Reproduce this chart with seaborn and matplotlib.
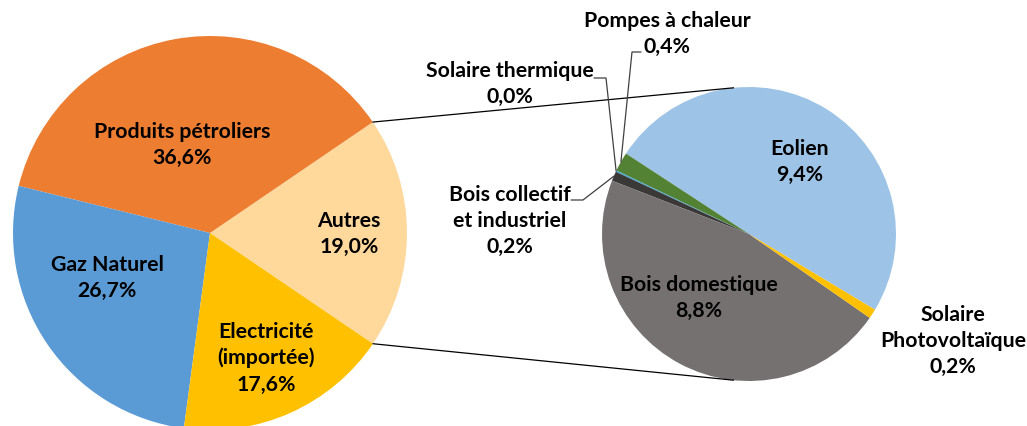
import numpy as np
import matplotlib
matplotlib.use("Agg")
import matplotlib.pyplot as plt
import seaborn as sns

# ---- data ----
main_labels = ["Autres", "Produits pétroliers", "Gaz Naturel", "Electricité\n(importée)"]
main_values = [19.0, 36.6, 26.7, 17.6]
main_colors = ["#FFD89C", "#ED7D31", "#5B9BD5", "#FFC000"]

sub_labels = ["Eolien", "Pompes à chaleur", "Solaire thermique",
              "Bois collectif\net industriel", "Bois domestique", "Solaire\nPhotovoltaïque"]
sub_values = [9.4, 0.4, 0.03, 0.2, 8.8, 0.2]
sub_colors = ["#9DC3E6", "#548235", "#3FA7D0", "#3B3838", "#767171", "#FFC000"]

def fmt(v):
    return f"{v:.1f}".replace(".", ",") + "%"

sns.set_theme(style="white")
plt.rcParams["font.family"] = ["Lato", "DejaVu Sans"]

W, H = 1027, 426
fig = plt.figure(figsize=(W / 100, H / 100), dpi=100)
ax = fig.add_axes([0, 0, 1, 1])
ax.set_xlim(0, W)
ax.set_ylim(0, H)
ax.set_aspect("equal")
ax.axis("off")

def P(x, y):
    return (x, H - y)

c1, r1 = P(210, 233), 197
c2, r2 = P(749, 234), 147

w1, _ = ax.pie(main_values, colors=main_colors, startangle=-34.2, center=c1,
               radius=r1, wedgeprops=dict(linewidth=0), frame=True)
w2, _ = ax.pie(sub_values, colors=sub_colors, startangle=-31, center=c2,
               radius=r2, wedgeprops=dict(linewidth=0), frame=True)
ax.set_xlim(0, W)
ax.set_ylim(0, H)
ax.axis("off")

def on_circle(c, r, ang):
    a = np.deg2rad(ang)
    return (c[0] + r * np.cos(a), c[1] + r * np.sin(a))

# connector lines between pies
autres = w1[0]
pA = on_circle(c1, r1, autres.theta2)
pB = on_circle(c1, r1, autres.theta1)
qA = on_circle(c2, r2, 96)
qB = on_circle(c2, r2, 264)
ax.plot([pA[0], qA[0]], [pA[1], qA[1]], color="black", lw=0.9)
ax.plot([pB[0], qB[0]], [pB[1], qB[1]], color="black", lw=0.9)

fs = 15.3
tk = dict(ha="center", va="center", fontsize=fs, fontweight="bold",
          color="black", linespacing=1.38)

main_pos = [(349, 234), (182, 145), (107, 278), (266, 358)]
for lab, v, (x, y) in zip(main_labels, main_values, main_pos):
    ax.text(*P(x, y), f"{lab}\n{fmt(v)}", **tk)

sub_pos = [(800, 162), (667, 34), (510, 84), (510, 221), (699, 298), (953, 341)]
for lab, v, (x, y) in zip(sub_labels, sub_values, sub_pos):
    ax.text(*P(x, y), f"{lab}\n{fmt(v)}", **tk)

# leader lines for the tiny slices
def mid(w):
    return (w.theta1 + w.theta2) / 2

lc = dict(color="#404040", lw=0.9)
p = on_circle(c2, r2, mid(w2[1]))
ax.plot([p[0], P(632, 52)[0], P(641, 52)[0]], [p[1], P(632, 52)[1], P(641, 52)[1]], **lc)
p = on_circle(c2, r2, mid(w2[2]))
ax.plot([P(594, 78)[0], P(606, 78)[0], p[0]], [P(594, 78)[1], P(606, 78)[1], p[1]], **lc)
p = on_circle(c2, r2, mid(w2[3]))
ax.plot([P(571, 200)[0], P(583, 200)[0], p[0]], [P(571, 200)[1], P(583, 200)[1], p[1]], **lc)

fig.savefig("out.png", dpi=100)
